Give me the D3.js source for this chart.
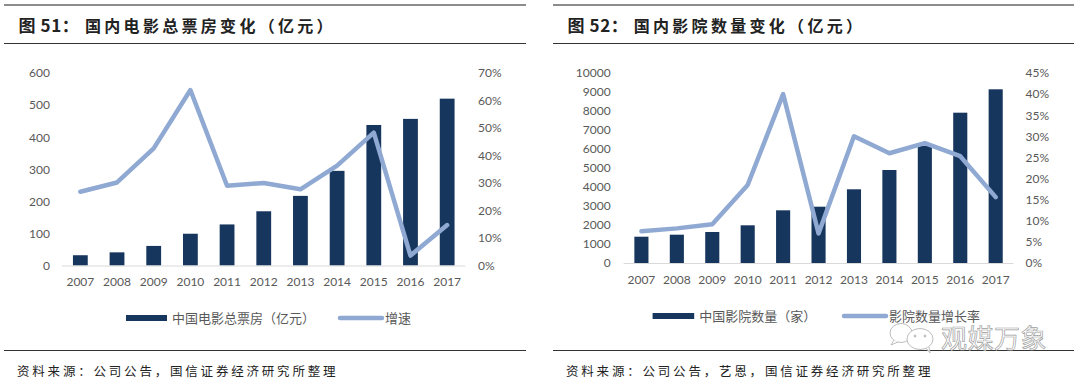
<!DOCTYPE html>
<html lang="en">
<head>
<meta charset="UTF-8">
<title>国内电影票房与影院数量</title>
<script src="https://d3js.org/d3.v7.min.js"></script>
<style>
    html, body { margin: 0; padding: 0; background: #fff; }
    svg { display: block; }
    .tick text { font-family: Lato, "Open Sans", sans-serif; font-size: 12px; fill: #595959; }
    .cn { font-family: "Noto Sans CJK SC", sans-serif; }
    .legend { font-size: 13px; fill: #595959; }
    .title { font-size: 16px; font-weight: 700; fill: #222; letter-spacing: 3.3px; }
    .title .fig { font-size: 17px; letter-spacing: 0.6px; }
    .source { font-size: 12.5px; fill: #222; letter-spacing: 2.8px; }
</style>
</head>
<body>
<svg id="canvas" width="1080" height="385"></svg>
<script>
    const years = ["2007", "2008", "2009", "2010", "2011", "2012", "2013", "2014", "2015", "2016", "2017"];

    // fig 51
    const boxOffice = [32, 41, 61, 99, 128, 169, 217, 295, 438, 457, 520];
    const boxOfficeGrowth = [26.8, 30.2, 42.6, 63.8, 29, 30, 27.7, 36.3, 48.3, 3.6, 14.7];
    const boxOfficeTicks = [0, 100, 200, 300, 400, 500, 600];
    const boxOfficeGrowthTicks = [0, 10, 20, 30, 40, 50, 60, 70];

    // fig 52
    const cinemas = [1384, 1490, 1632, 1984, 2773, 2963, 3879, 4895, 6174, 7911, 9142];
    const cinemaGrowth = [7.5, 8.2, 9.2, 18.5, 40, 7, 30, 26, 28.4, 25.3, 15.6];
    const cinemaTicks = [0, 1000, 2000, 3000, 4000, 5000, 6000, 7000, 8000, 9000, 10000];
    const cinemaGrowthTicks = [0, 5, 10, 15, 20, 25, 30, 35, 40, 45];

    const barColor = "#17365d";
    const lineColor = "#8fa9d3";
    const svg = d3.select("#canvas");

    function drawPanel(p) {
        let g = svg.append("g");

        // rules
        g.append("line").attr("x1", p.left).attr("x2", p.right).attr("y1", 5).attr("y2", 5)
            .attr("stroke", "#666").attr("stroke-width", 1.5);
        g.append("line").attr("x1", p.left).attr("x2", p.right).attr("y1", 43.5).attr("y2", 43.5)
            .attr("stroke", "#333").attr("stroke-width", 1);
        g.append("line").attr("x1", p.left).attr("x2", p.right).attr("y1", 350.5).attr("y2", 350.5)
            .attr("stroke", "#333").attr("stroke-width", 1);

        let title = g.append("text").attr("class", "cn title").attr("x", p.left + 14.5).attr("y", 32);
        title.append("tspan").attr("class", "fig").text(p.figure);
        title.append("tspan").attr("x", p.titleX).text(p.title);
        g.append("text").attr("class", "cn source").attr("x", p.left + 13).attr("y", 376).text(p.source);

        let gap = 1 - p.barWidth / ((p.x1 - p.x0) / 11);
        let x = d3.scaleBand().domain(years).range([p.x0, p.x1]).paddingInner(gap).paddingOuter(gap / 2);
        let yBar = d3.scaleLinear().domain([0, d3.max(p.barTicks)]).range([p.y0, p.y1]);
        let yLine = d3.scaleLinear().domain([0, d3.max(p.lineTicks)]).range([p.y0, p.y1]);

        // bars
        g.selectAll("rect.bar").data(p.bars).enter().append("rect")
            .attr("class", "bar")
            .attr("x", (d, i) => x(years[i]))
            .attr("width", x.bandwidth())
            .attr("y", d => yBar(d))
            .attr("height", d => p.y0 - yBar(d))
            .attr("fill", barColor);

        // baseline
        g.append("line").attr("x1", p.x0).attr("x2", p.x1).attr("y1", p.y0 + 0.5).attr("y2", p.y0 + 0.5)
            .attr("stroke", "#d9d9d9").attr("stroke-width", 1);

        // growth line
        let line = d3.line().x((d, i) => x(years[i]) + x.bandwidth() / 2).y(d => yLine(d));
        g.append("path").datum(p.line)
            .attr("d", line)
            .attr("fill", "none")
            .attr("stroke", lineColor)
            .attr("stroke-width", 4.5)
            .attr("stroke-linejoin", "round")
            .attr("stroke-linecap", "round");

        // axes
        g.append("g").attr("transform", "translate(0," + p.yearY + ")")
            .call(d3.axisBottom(x).tickSize(0).tickPadding(0))
            .call(a => a.select(".domain").remove())
            .selectAll("text").attr("dy", "0.32em").attr("y", 0);
        g.append("g").attr("transform", "translate(" + p.leftAxisX + ",0)")
            .call(d3.axisLeft(yBar).tickValues(p.barTicks).tickFormat(d3.format("d")).tickSize(0).tickPadding(0))
            .call(a => a.select(".domain").remove());
        g.append("g").attr("transform", "translate(" + p.rightAxisX + ",0)")
            .call(d3.axisRight(yLine).tickValues(p.lineTicks).tickFormat(d => d + "%").tickSize(0).tickPadding(0))
            .call(a => a.select(".domain").remove());

        // legend
        let lg = g.append("g");
        lg.append("rect").attr("x", p.legend.barX).attr("y", p.legend.y - 3).attr("width", p.legend.barW).attr("height", 6)
            .attr("fill", barColor);
        lg.append("text").attr("class", "cn legend").attr("x", p.legend.barX + p.legend.barW + 5)
            .attr("y", p.legend.y).attr("dy", "0.36em").text(p.barName);
        lg.append("line").attr("x1", p.legend.lineX).attr("x2", p.legend.lineX + p.legend.lineW)
            .attr("y1", p.legend.y).attr("y2", p.legend.y)
            .attr("stroke", lineColor).attr("stroke-width", 4.5).attr("stroke-linecap", "round");
        lg.append("text").attr("class", "cn legend").attr("x", p.legend.lineX + p.legend.lineW + 3)
            .attr("y", p.legend.y).attr("dy", "0.36em").text(p.lineName);
    }

    drawPanel({
        left: 4, right: 526,
        figure: "图 51：", title: "国内电影总票房变化（亿元）", titleX: 85,
        source: "资料来源：公司公告，国信证券经济研究所整理",
        bars: boxOffice, line: boxOfficeGrowth,
        barTicks: boxOfficeTicks, lineTicks: boxOfficeGrowthTicks,
        barName: "中国电影总票房（亿元）", lineName: "增速",
        x0: 62, x1: 465.5, y0: 265.5, y1: 73, barWidth: 14.8,
        yearY: 282, leftAxisX: 50, rightAxisX: 478,
        legend: {barX: 126, barW: 41, lineX: 340, lineW: 42, y: 318}
    });

    drawPanel({
        left: 553, right: 1074,
        figure: "图 52：", title: "国内影院数量变化（亿元）", titleX: 633.7,
        source: "资料来源：公司公告，艺恩，国信证券经济研究所整理",
        bars: cinemas, line: cinemaGrowth,
        barTicks: cinemaTicks, lineTicks: cinemaGrowthTicks,
        barName: "中国影院数量（家）", lineName: "影院数量增长率",
        x0: 623.7, x1: 1013.4, y0: 263, y1: 73, barWidth: 14.1,
        yearY: 280, leftAxisX: 610.6, rightAxisX: 1025.5,
        legend: {barX: 652.6, barW: 41.6, lineX: 844, lineW: 42, y: 316}
    });

    // watermark over the right legend
    let mark = svg.append("g").attr("fill", "#fff").attr("stroke", "#bdbdbd").attr("stroke-width", 1);
    mark.append("ellipse").attr("cx", 901).attr("cy", 333).attr("rx", 11).attr("ry", 9.5);
    mark.append("path").attr("d", "M894 340 l-3 5 l7 -3");
    mark.append("ellipse").attr("cx", 920).attr("cy", 339).attr("rx", 13).attr("ry", 10.5);
    mark.append("path").attr("d", "M926 348 l4 5 l-1 -6");
    mark.append("circle").attr("cx", 915).attr("cy", 336).attr("r", 1).attr("fill", "#bdbdbd");
    mark.append("circle").attr("cx", 925).attr("cy", 336).attr("r", 1).attr("fill", "#bdbdbd");
    mark.append("text").attr("class", "cn").attr("x", 941).attr("y", 348)
        .attr("font-size", 26).attr("letter-spacing", 0.5).attr("stroke-width", 0.7)
        .attr("fill", "#fff").attr("stroke", "#a0a0a0").text("观媒万象");
</script>
</body>
</html>
